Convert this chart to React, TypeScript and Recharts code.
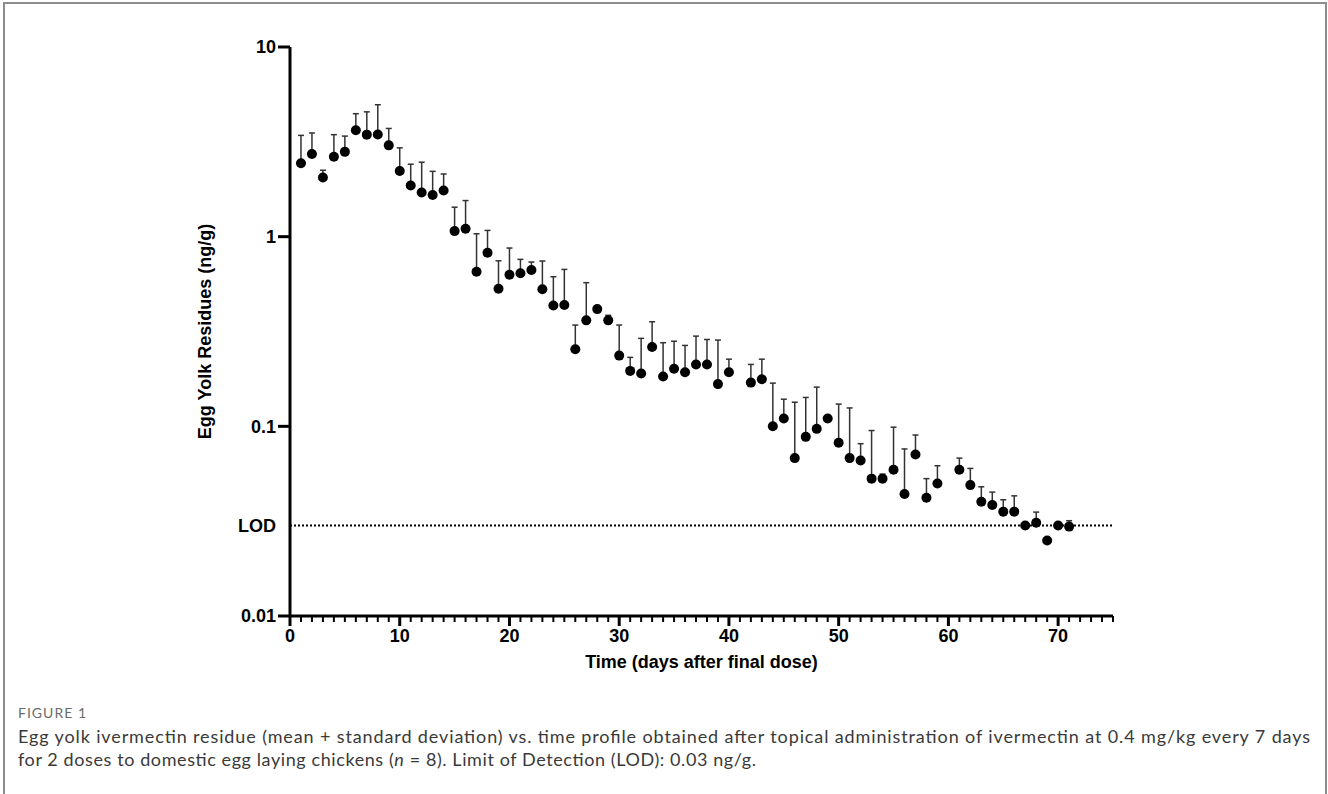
import { ScatterChart, Scatter, XAxis, YAxis, ErrorBar, ReferenceLine } from 'recharts'

// days after final dose (no samples on day 41 and day 60)
const days = [
  1, 2, 3, 4, 5, 6, 7, 8, 9, 10, 11, 12, 13, 14, 15, 16, 17, 18, 19, 20,
  21, 22, 23, 24, 25, 26, 27, 28, 29, 30, 31, 32, 33, 34, 35, 36, 37, 38, 39, 40,
  42, 43, 44, 45, 46, 47, 48, 49, 50, 51, 52, 53, 54, 55, 56, 57, 58, 59,
  61, 62, 63, 64, 65, 66, 67, 68, 69, 70, 71,
]

// mean egg yolk residue, ng/g
const meanResidue = [
  2.44, 2.73, 2.05, 2.64, 2.8, 3.64, 3.45, 3.46, 3.03, 2.22, 1.86, 1.71, 1.66, 1.75, 1.07, 1.1, 0.653, 0.823, 0.531, 0.63,
  0.641, 0.667, 0.528, 0.434, 0.436, 0.255, 0.362, 0.415, 0.362, 0.236, 0.196, 0.19, 0.262, 0.183, 0.201, 0.193, 0.212, 0.212, 0.167, 0.193,
  0.17, 0.177, 0.1, 0.11, 0.068, 0.088, 0.097, 0.11, 0.082, 0.068, 0.066, 0.053, 0.053, 0.059, 0.044, 0.071, 0.042, 0.05,
  0.059, 0.049, 0.04, 0.0385, 0.0355, 0.0355, 0.03, 0.031, 0.025, 0.03, 0.0296,
]

// standard deviation (only the upper bar is drawn)
const sdResidue = [
  0.98, 0.79, 0.19, 0.81, 0.59, 0.81, 1.1, 1.5, 0.69, 0.72, 0.55, 0.76, 0.55, 0.39, 0.36, 0.45, 0.383, 0.256, 0.215, 0.241,
  0.118, 0.068, 0.216, 0.181, 0.236, 0.087, 0.21, 0, 0.023, 0.106, 0.035, 0.101, 0.094, 0.093, 0.08, 0.074, 0.087, 0.075, 0.118, 0.033,
  0.042, 0.049, 0.069, 0.029, 0.066, 0.054, 0.064, 0, 0.049, 0.057, 0.015, 0.042, 0.003, 0.04, 0.032, 0.019, 0.011, 0.012,
  0.009, 0.011, 0.008, 0.0065, 0.0055, 0.0075, 0, 0.0043, 0, 0, 0.0022,
]

const LOD = 0.03
const yTicks = [0.01, LOD, 0.1, 1, 10]
const yTickLabels = ['0.01', 'LOD', '0.1', '1', '10']
const xMajorTicks = [0, 10, 20, 30, 40, 50, 60, 70]
const xTicks = Array.from({ length: 76 }, (_, i) => i)

const data = days.map((d, i) => ({
  day: d,
  mean: meanResidue[i],
  err: [0, sdResidue[i]],
}))

const FONT = '"Liberation Sans", Arial, sans-serif'
const CAPTION_FONT = 'Lato, sans-serif'

function YTick({ x, y, payload }: any) {
  const idx = yTicks.indexOf(payload.value)
  const isLod = payload.value === LOD
  return (
    <g>
      {!isLod && <line x1={x - 12} x2={x} y1={y} y2={y} stroke="#000" strokeWidth={3} />}
      <text
        x={x - 14}
        y={y}
        dy="0.36em"
        textAnchor="end"
        fontFamily={FONT}
        fontWeight="bold"
        fontSize={18}
        fill="#000"
      >
        {yTickLabels[idx]}
      </text>
    </g>
  )
}

function XTick({ x, y, payload }: any) {
  const major = xMajorTicks.includes(payload.value)
  return (
    <g>
      <line x1={x} x2={x} y1={y} y2={y + (major ? 10 : 6)} stroke="#000" strokeWidth={major ? 3 : 2} />
      {major && (
        <text
          x={x}
          y={y + 13}
          dy="0.71em"
          textAnchor="middle"
          fontFamily={FONT}
          fontWeight="bold"
          fontSize={18}
          fill="#000"
        >
          {payload.value}
        </text>
      )}
    </g>
  )
}

const Dot = (props: any) => <circle cx={props.cx} cy={props.cy} r={5} fill="#000" />

export default function App() {
  return (
    <div style={{ position: 'fixed', left: 0, top: 0, width: 1328, height: 794, background: '#fff', overflow: 'hidden' }}>
      <div
        style={{
          position: 'absolute',
          left: 3,
          top: 2,
          width: 1320,
          height: 800,
          border: '2px solid #8c8c8c',
          borderBottom: 'none',
        }}
      />
      <div style={{ position: 'absolute', left: 0, top: 0 }}>
        <ScatterChart width={1328} height={700} margin={{ top: 47, right: 215, bottom: 44, left: 200 }}>
          <XAxis
            type="number"
            dataKey="day"
            domain={[0, 75]}
            ticks={xTicks}
            interval={0}
            tickSize={0}
            tickMargin={0}
            tickLine={false}
            height={40}
            axisLine={{ stroke: '#000', strokeWidth: 3 }}
            tick={<XTick />}
            label={{
              value: 'Time (days after final dose)',
              position: 'bottom',
              offset: -1,
              style: { fontFamily: FONT, fontWeight: 'bold', fontSize: 18, fill: '#000' },
            }}
          />
          <YAxis
            type="number"
            dataKey="mean"
            scale="log"
            domain={[0.01, 10]}
            ticks={yTicks}
            interval={0}
            allowDataOverflow
            tickSize={0}
            tickMargin={0}
            tickLine={false}
            width={90}
            axisLine={{ stroke: '#000', strokeWidth: 3 }}
            tick={<YTick />}
            label={{
              value: 'Egg Yolk Residues (ng/g)',
              angle: -90,
              position: 'insideLeft',
              offset: 5,
              style: { textAnchor: 'middle', fontFamily: FONT, fontWeight: 'bold', fontSize: 18, fill: '#000' },
            }}
          />
          <ReferenceLine y={LOD} stroke="#000" strokeWidth={2} strokeDasharray="2 2" ifOverflow="extendDomain" />
          <Scatter data={data} fill="#000" shape={Dot} isAnimationActive={false}>
            <ErrorBar dataKey="err" direction="y" width={3} stroke="#333" strokeWidth={1.5} isAnimationActive={false} />
          </Scatter>
        </ScatterChart>
      </div>
      <svg style={{ position: 'absolute', left: 0, top: 690 }} width={1328} height={100}>
        <text
          x={18}
          y={28}
          fontFamily={CAPTION_FONT}
          fontSize={14}
          fill="#6b6b6b"
          textLength={68}
          lengthAdjust="spacing"
        >
          FIGURE 1
        </text>
        <text
          x={18}
          y={53}
          fontFamily={CAPTION_FONT}
          fontSize={18}
          fill="#3a3a3a"
          textLength={1292}
          lengthAdjust="spacing"
        >
          Egg yolk ivermectin residue (mean + standard deviation) vs. time profile obtained after topical administration of ivermectin at 0.4 mg/kg every 7 days
        </text>
        <text
          x={18}
          y={76}
          fontFamily={CAPTION_FONT}
          fontSize={18}
          fill="#3a3a3a"
          textLength={738}
          lengthAdjust="spacing"
        >
          for 2 doses to domestic egg laying chickens (<tspan fontStyle="italic">n</tspan> = 8). Limit of Detection (LOD): 0.03 ng/g.
        </text>
      </svg>
    </div>
  )
}
